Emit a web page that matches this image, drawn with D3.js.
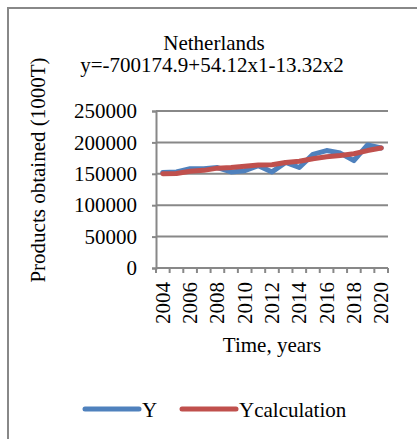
<!DOCTYPE html>
<html>
<head>
<meta charset="utf-8">
<script src="https://cdn.jsdelivr.net/npm/d3@7"></script>
<style>
	html, body { margin: 0; padding: 0; background: #fff; }
	svg { display: block; font-family: "Liberation Serif", "Times New Roman", serif; }
</style>
</head>
<body>
<div id="chart"></div>
<script>
// values
const years = [2004, 2005, 2006, 2007, 2008, 2009, 2010, 2011, 2012, 2013, 2014, 2015, 2016, 2017, 2018, 2019, 2020];
const yActual = [152000, 153000, 158000, 158000, 160000, 153000, 155000, 163000, 153000, 168000, 160000, 181000, 187000, 183000, 171000, 196000, 191000];
const yCalc = [150000, 150500, 154000, 155500, 159000, 160000, 162000, 164000, 164500, 168000, 170000, 174000, 177000, 179000, 182000, 187000, 191000];
const yTicks = [0, 50000, 100000, 150000, 200000, 250000];
const xLabels = [2004, 2006, 2008, 2010, 2012, 2014, 2016, 2018, 2020];
const seriesNames = ["Y", "Ycalculation"];
const seriesColors = ["#4F81BD", "#C0504D"];

const W = 417, H = 439;
const gridColor = "#888888";
const fontSize = 21;

const svg = d3.select("#chart").append("svg")
	.attr("width", W)
	.attr("height", H);

/* outer chart frame (only top and left edges show) */
svg.append("rect")
	.attr("x", 8).attr("y", 8)
	.attr("width", 430).attr("height", 450)
	.attr("fill", "none")
	.attr("stroke", gridColor)
	.attr("stroke-width", 2);

const x = d3.scaleBand().domain(years).range([156, 388]).padding(0);
const y = d3.scaleLinear().domain([0, 250000]).range([268, 111]);
const cx = (d) => x(d) + x.bandwidth() / 2;

/* gridlines */
svg.append("g")
	.selectAll("line")
	.data(yTicks.filter(t => t > 0))
	.enter().append("line")
		.attr("x1", 156).attr("x2", 388)
		.attr("y1", d => y(d)).attr("y2", d => y(d))
		.attr("stroke", gridColor)
		.attr("stroke-width", 2);

/* y axis */
const yAxis = svg.append("g")
	.attr("transform", "translate(156,0)")
	.call(d3.axisLeft(y).tickValues(yTicks).tickSize(4).tickPadding(15).tickFormat(d3.format("d")));
yAxis.select(".domain").attr("stroke", gridColor).attr("stroke-width", 2);
yAxis.selectAll(".tick line").attr("stroke", gridColor).attr("stroke-width", 2);
yAxis.selectAll("text")
	.attr("font-family", "Liberation Serif, serif")
	.attr("font-size", fontSize)
	.attr("fill", "#000");

/* x axis: ticks on category boundaries */
const bounds = years.map(d => x(d)).concat([388]);
const xAxis = svg.append("g");
xAxis.append("line")
	.attr("x1", 156).attr("x2", 388)
	.attr("y1", y(0)).attr("y2", y(0))
	.attr("stroke", gridColor).attr("stroke-width", 2);
xAxis.selectAll(".tk")
	.data(bounds)
	.enter().append("line")
		.attr("class", "tk")
		.attr("x1", d => d).attr("x2", d => d)
		.attr("y1", y(0)).attr("y2", y(0) + 5)
		.attr("stroke", gridColor).attr("stroke-width", 2);
xAxis.selectAll("text")
	.data(xLabels)
	.enter().append("text")
		.attr("transform", d => `translate(${cx(d) + 7},282) rotate(-90)`)
		.attr("text-anchor", "end")
		.attr("font-size", fontSize)
		.text(d => d);

/* series lines */
const line = d3.line()
	.x((d, i) => cx(years[i]))
	.y(d => y(d));

[yActual, yCalc].forEach((vals, i) => {
	svg.append("path")
		.datum(vals)
		.attr("d", line)
		.attr("fill", "none")
		.attr("stroke", seriesColors[i])
		.attr("stroke-width", 5)
		.attr("stroke-linejoin", "round")
		.attr("stroke-linecap", "round");
});

/* titles */
svg.append("text")
	.attr("x", 214).attr("y", 50)
	.attr("text-anchor", "middle")
	.attr("font-size", fontSize)
	.text("Netherlands");
svg.append("text")
	.attr("x", 212).attr("y", 72)
	.attr("text-anchor", "middle")
	.attr("font-size", fontSize)
	.text("y=-700174.9+54.12x1-13.32x2");

svg.append("text")
	.attr("transform", "translate(45,170) rotate(-90)")
	.attr("text-anchor", "middle")
	.attr("font-size", fontSize)
	.text("Products obtained (1000T)");

svg.append("text")
	.attr("x", 272).attr("y", 352)
	.attr("text-anchor", "middle")
	.attr("font-size", fontSize)
	.text("Time, years");

/* legend */
const legendX = [85, 182];
const legend = svg.append("g")
	.selectAll("g")
	.data(seriesNames)
	.enter().append("g")
		.attr("transform", (d, i) => `translate(${legendX[i]},409)`);
legend.append("line")
	.attr("x1", 0).attr("x2", 54)
	.attr("stroke", (d, i) => seriesColors[i])
	.attr("stroke-width", 5)
	.attr("stroke-linecap", "round");
legend.append("text")
	.attr("x", 57).attr("y", 8)
	.attr("font-size", fontSize)
	.text(d => d);
</script>
</body>
</html>
